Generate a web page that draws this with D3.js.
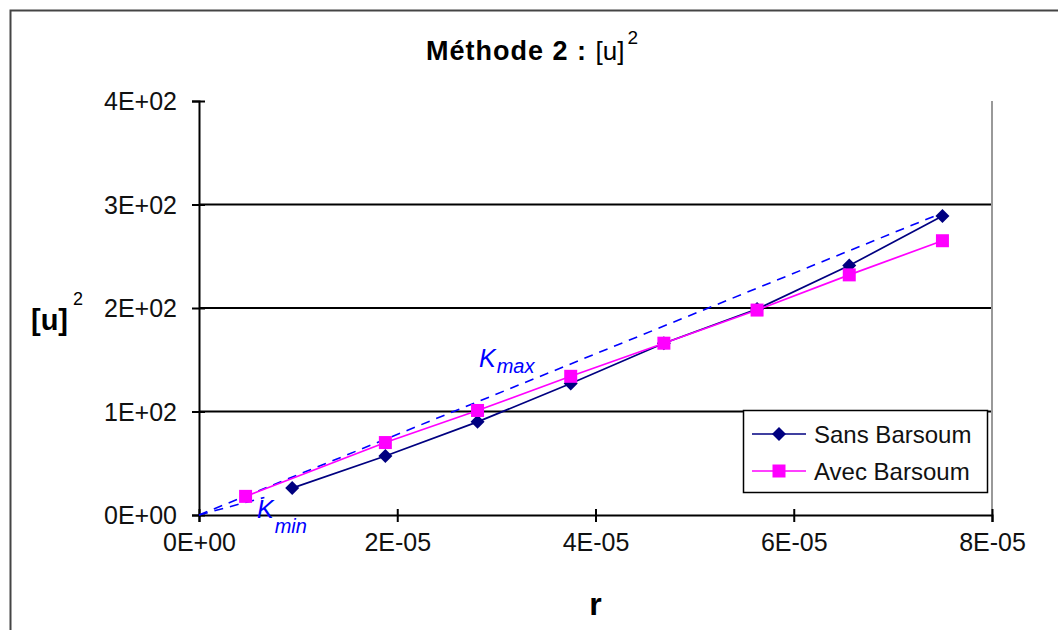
<!DOCTYPE html>
<html>
<head>
<meta charset="utf-8">
<script src="https://cdn.jsdelivr.net/npm/d3@7"></script>
<style>
  body { margin: 0; background: #fff; }
  text { font-family: "Liberation Sans", Arial, sans-serif; }
</style>
</head>
<body>
<script>
// data
var rValues = [4.7e-6, 9.4e-6, 1.88e-5, 2.81e-5, 3.75e-5, 4.69e-5, 5.63e-5, 6.56e-5, 7.5e-5];
var sansBarsoum = [null, 26, 57, 90, 127, 166, 199, 241, 289];
var avecBarsoum = [18, null, 70, 101, 134, 166, 198, 232, 265];
var kmaxLine = [[0, 0], [7.45e-5, 290]];
var kminLine = [[0, 0], [6.6e-6, 17]];
var yTicks = [0, 100, 200, 300, 400];
var xTicks = [0, 2e-5, 4e-5, 6e-5, 8e-5];
var seriesNames = ["Sans Barsoum", "Avec Barsoum"];

var W = 1058, H = 630;
var plot = {left: 199, right: 992, top: 101, bottom: 515};

var svg = d3.select("body").append("svg")
    .attr("width", W).attr("height", H);

// outer chart border
svg.append("rect")
    .attr("x", 10.5).attr("y", 10.5)
    .attr("width", 1060).attr("height", 640)
    .attr("fill", "none").attr("stroke", "#444").attr("stroke-width", 2);

var x = d3.scaleLinear().domain([0, 8e-5]).range([plot.left, plot.right]);
var y = d3.scaleLinear().domain([0, 400]).range([plot.bottom, plot.top]);

function expo(v) {
  if (v === 0) return "0E+00";
  var e = Math.floor(Math.log10(Math.abs(v)));
  var m = Math.round(v / Math.pow(10, e));
  return m + "E" + (e < 0 ? "-" : "+") + (Math.abs(e) < 10 ? "0" : "") + Math.abs(e);
}

// gridlines
svg.append("g").selectAll("line")
    .data(yTicks.filter(function(d) { return d > 0 && d < 400; }))
  .enter().append("line")
    .attr("x1", plot.left).attr("x2", plot.right)
    .attr("y1", function(d) { return y(d); }).attr("y2", function(d) { return y(d); })
    .attr("stroke", "#000").attr("stroke-width", 2);

// right edge of plot area
svg.append("line")
    .attr("x1", plot.right).attr("x2", plot.right)
    .attr("y1", plot.top).attr("y2", plot.bottom)
    .attr("stroke", "#999").attr("stroke-width", 2);

// axes
var yAxis = svg.append("g")
    .attr("transform", "translate(" + plot.left + ",0)")
    .call(d3.axisLeft(y).tickValues(yTicks).tickFormat(expo).tickSize(7).tickPadding(15));
var xAxis = svg.append("g")
    .attr("transform", "translate(0," + plot.bottom + ")")
    .call(d3.axisBottom(x).tickValues(xTicks).tickFormat(expo).tickSize(7).tickPadding(11));

[yAxis, xAxis].forEach(function(g) {
  g.select(".domain").attr("stroke", "#000").attr("stroke-width", 2);
  g.selectAll(".tick line").attr("stroke", "#000").attr("stroke-width", 2);
  g.selectAll(".tick text").attr("font-size", 25).attr("fill", "#111")
    .style("font-family", "'Liberation Sans', Arial, sans-serif");
});
// cross ticks on y axis
yAxis.selectAll(".tick line").attr("x1", 6);
xAxis.selectAll(".tick line").attr("y1", -6);
yAxis.selectAll(".tick text").attr("dy", "0.35em");

// reference lines K
var line = d3.line().x(function(d) { return x(d[0]); }).y(function(d) { return y(d[1]); });
[kmaxLine, kminLine].forEach(function(seg) {
  svg.append("path").datum(seg)
    .attr("d", line).attr("fill", "none")
    .attr("stroke", "#0000ff").attr("stroke-width", 1.6)
    .attr("stroke-dasharray", "9,7");
});

// series
function seriesPts(vals) {
  return rValues.map(function(r, i) { return [r, vals[i]]; })
    .filter(function(d) { return d[1] !== null; });
}
var sansPts = seriesPts(sansBarsoum);
var avecPts = seriesPts(avecBarsoum);

svg.append("path").datum(sansPts).attr("d", line)
  .attr("fill", "none").attr("stroke", "#000080").attr("stroke-width", 1.7);
svg.append("path").datum(avecPts).attr("d", line)
  .attr("fill", "none").attr("stroke", "#ff00ff").attr("stroke-width", 1.7);

var diamond = d3.symbol().type(d3.symbolDiamond2).size(125);
var square = d3.symbol().type(d3.symbolSquare).size(169);

svg.append("g").selectAll("path").data(sansPts).enter().append("path")
  .attr("d", diamond)
  .attr("transform", function(d) { return "translate(" + x(d[0]) + "," + y(d[1]) + ")"; })
  .attr("fill", "#000080");
svg.append("g").selectAll("path").data(avecPts).enter().append("path")
  .attr("d", square)
  .attr("transform", function(d) { return "translate(" + x(d[0]) + "," + y(d[1]) + ")"; })
  .attr("fill", "#ff00ff");

// K labels
function kLabel(px, py, sub, drop) {
  var t = svg.append("text").attr("x", px).attr("y", py)
    .attr("fill", "#0000ff").attr("font-style", "italic").attr("font-size", 25);
  t.append("tspan").text("K");
  t.append("tspan").attr("dy", drop).attr("dx", 1).attr("font-size", 20).text(sub);
}
kLabel(479, 367, "max", 6);
kLabel(257, 518, "min", 15);

// title
var title = svg.append("text").attr("x", 532).attr("y", 60)
  .attr("text-anchor", "middle").attr("font-size", 27).attr("fill", "#000");
title.append("tspan").attr("font-weight", "bold").attr("letter-spacing", 1).text("Méthode 2 : ");
title.append("tspan").attr("font-size", 26).text("[u]");
title.append("tspan").attr("dy", -16).attr("dx", 3).attr("font-size", 19).text("2");

// axis titles
var yt = svg.append("text").attr("x", 31).attr("y", 330)
  .attr("font-size", 29).attr("fill", "#000");
yt.append("tspan").attr("font-weight", "bold").text("[u]");
yt.append("tspan").attr("x", 73).attr("y", 305).attr("font-size", 18).text("2");

svg.append("text").attr("x", x(4e-5)).attr("y", 615)
  .attr("text-anchor", "middle").attr("font-size", 32).attr("font-weight", "bold")
  .text("r");

// legend
var leg = svg.append("g").attr("transform", "translate(743,410)");
leg.append("rect").attr("x", 0.5).attr("y", 0.5).attr("width", 244).attr("height", 82)
  .attr("fill", "#fff").attr("stroke", "#000").attr("stroke-width", 1.5);
var legItems = [
  {name: seriesNames[0], color: "#000080", sym: diamond},
  {name: seriesNames[1], color: "#ff00ff", sym: square}
];
legItems.forEach(function(it, i) {
  var yy = 24 + i * 37;
  leg.append("line").attr("x1", 9).attr("x2", 63).attr("y1", yy).attr("y2", yy)
    .attr("stroke", it.color).attr("stroke-width", 1.7);
  leg.append("path").attr("d", it.sym)
    .attr("transform", "translate(36," + yy + ")").attr("fill", it.color);
  leg.append("text").attr("x", 71).attr("y", yy + 9)
    .attr("font-size", 24).attr("fill", "#111").text(it.name);
});
</script>
</body>
</html>
